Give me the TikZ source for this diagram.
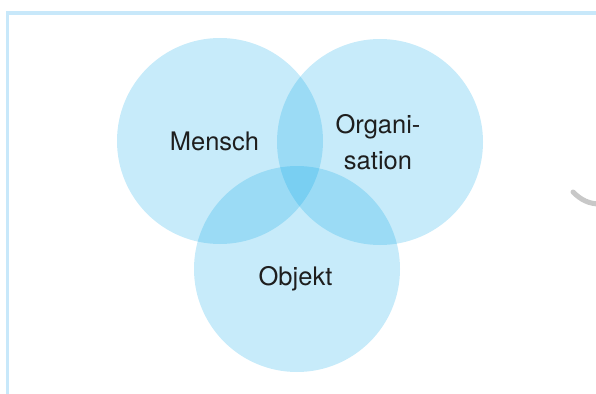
\documentclass[tikz,border=0pt]{standalone}
\usepackage{fontspec}
\setmainfont{TeX Gyre Heros}
\definecolor{setblue}{RGB}{0,164,230}
\definecolor{frameblue}{RGB}{200,232,250}
\definecolor{labelgray}{RGB}{30,30,30}
\definecolor{arcgray}{RGB}{200,200,200}
\begin{document}
\begin{tikzpicture}[x=1pt,y=-1pt]
            \useasboundingbox (0,0) rectangle (596,393);
            \draw[frameblue, line width=3.5pt] (7.5,400) -- (7.5,13) -- (600,13);
            \draw[arcgray, line width=5pt, line cap=round] (573,192) .. controls (581,200) and (589,204) .. (600,204);

            \begin{scope}[every path/.style = {fill=setblue, fill opacity=0.22}]
                \fill (220,141) circle (103);
                \fill (380,142) circle (103);
                \fill (297,269) circle (103);
            \end{scope}

            \begin{scope}[every node/.style = {text=labelgray, font=\fontsize{25.5}{36}\selectfont, align=center}]
                \node(mensch) at (214.5,141) {Mensch};
                \node(organisation) at (378,142) {Organi-\\sation};
                \node(objekt) at (295.5,279) {Objekt};
            \end{scope}
        \end{tikzpicture}
\end{document}
